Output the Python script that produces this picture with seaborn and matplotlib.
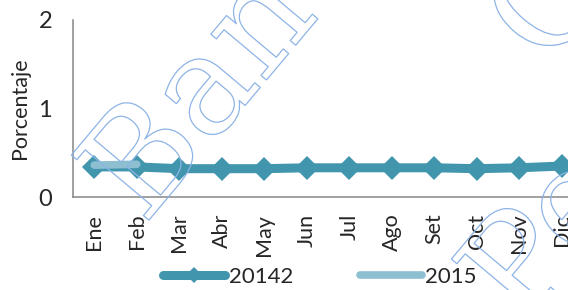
import numpy as np
import pandas as pd
import matplotlib
matplotlib.use('Agg')
import matplotlib.pyplot as plt
import matplotlib.patheffects as pe
import seaborn as sns

# Datos
meses = ['Ene', 'Feb', 'Mar', 'Abr', 'May', 'Jun', 'Jul', 'Ago', 'Set', 'Oct', 'Nov', 'Dic']
serie_2014 = [0.34, 0.34, 0.32, 0.32, 0.32, 0.33, 0.33, 0.33, 0.33, 0.32, 0.33, 0.35]
meses_2015 = ['Ene', 'Feb']
serie_2015 = [0.36, 0.37]
yticks = [0, 1, 2]

sns.set_style('white')
plt.rcParams['font.family'] = ['Lato', 'DejaVu Sans']

col_2014 = '#4196ae'
col_2015 = '#8dbfd1'
gris = '#868686'

df14 = pd.DataFrame({'mes': np.arange(len(meses)), 'valor': serie_2014})
df15 = pd.DataFrame({'mes': np.arange(len(meses_2015)), 'valor': serie_2015})

fig = plt.figure(figsize=(5.68, 2.90), dpi=100)
ax = fig.add_axes([73 / 568, 1 - 197 / 290, 510 / 568, 177 / 290])

sns.lineplot(data=df14, x='mes', y='valor', ax=ax, color=col_2014, linewidth=6.5,
             marker='D', markersize=12, markeredgewidth=0, label='20142',
             solid_capstyle='round')
sns.lineplot(data=df15, x='mes', y='valor', ax=ax, color=col_2015, linewidth=5.5,
             label='2015', solid_capstyle='round')

ax.set_xlim(-0.5, 11.5)
ax.set_ylim(0, 2)
ax.set_yticks(yticks)
ax.set_yticklabels([str(v) for v in yticks], fontsize=17)
ax.set_xticks(np.arange(len(meses)))
ax.set_xticklabels(meses, rotation=90, fontsize=15.5)
ax.set_xticks(np.arange(-0.5, len(meses), 1), minor=True)
ax.tick_params(axis='x', which='major', length=0, pad=12)
ax.tick_params(axis='x', which='minor', length=5, width=1.1, color=gris, direction='out')
ax.tick_params(axis='y', which='major', length=5, width=1.1, color=gris, pad=10, direction='out')
ax.set_xlabel('')
ax.set_ylabel('Porcentaje', fontsize=15.5, labelpad=6)

for s in ['top', 'right']:
    ax.spines[s].set_visible(False)
for s in ['left', 'bottom']:
    ax.spines[s].set_color(gris)
    ax.spines[s].set_linewidth(1.1)

leg = ax.legend(loc='center', bbox_to_anchor=(320 / 568, 1 - 277 / 290),
                bbox_transform=fig.transFigure, ncol=2, frameon=False,
                fontsize=16, handlelength=2.8, handletextpad=0.15,
                columnspacing=3.0, markerscale=0.7)

# Marca de agua (texto hueco)
marca = dict(color='none', family='DejaVu Serif', rotation=50, rotation_mode='anchor',
             fontsize=100, ha='left', va='baseline',
             path_effects=[pe.Stroke(linewidth=0.9, foreground='#8db4e6')])
fig.text(144 / 568, 1 - 226 / 290, 'Banco', **marca)
fig.text(548 / 568, 1 - 70 / 290, 'Central', **marca)
fig.text(524 / 568, 1 - 330 / 290, 'Perú', **marca)

fig.savefig('out.png', dpi=100)
